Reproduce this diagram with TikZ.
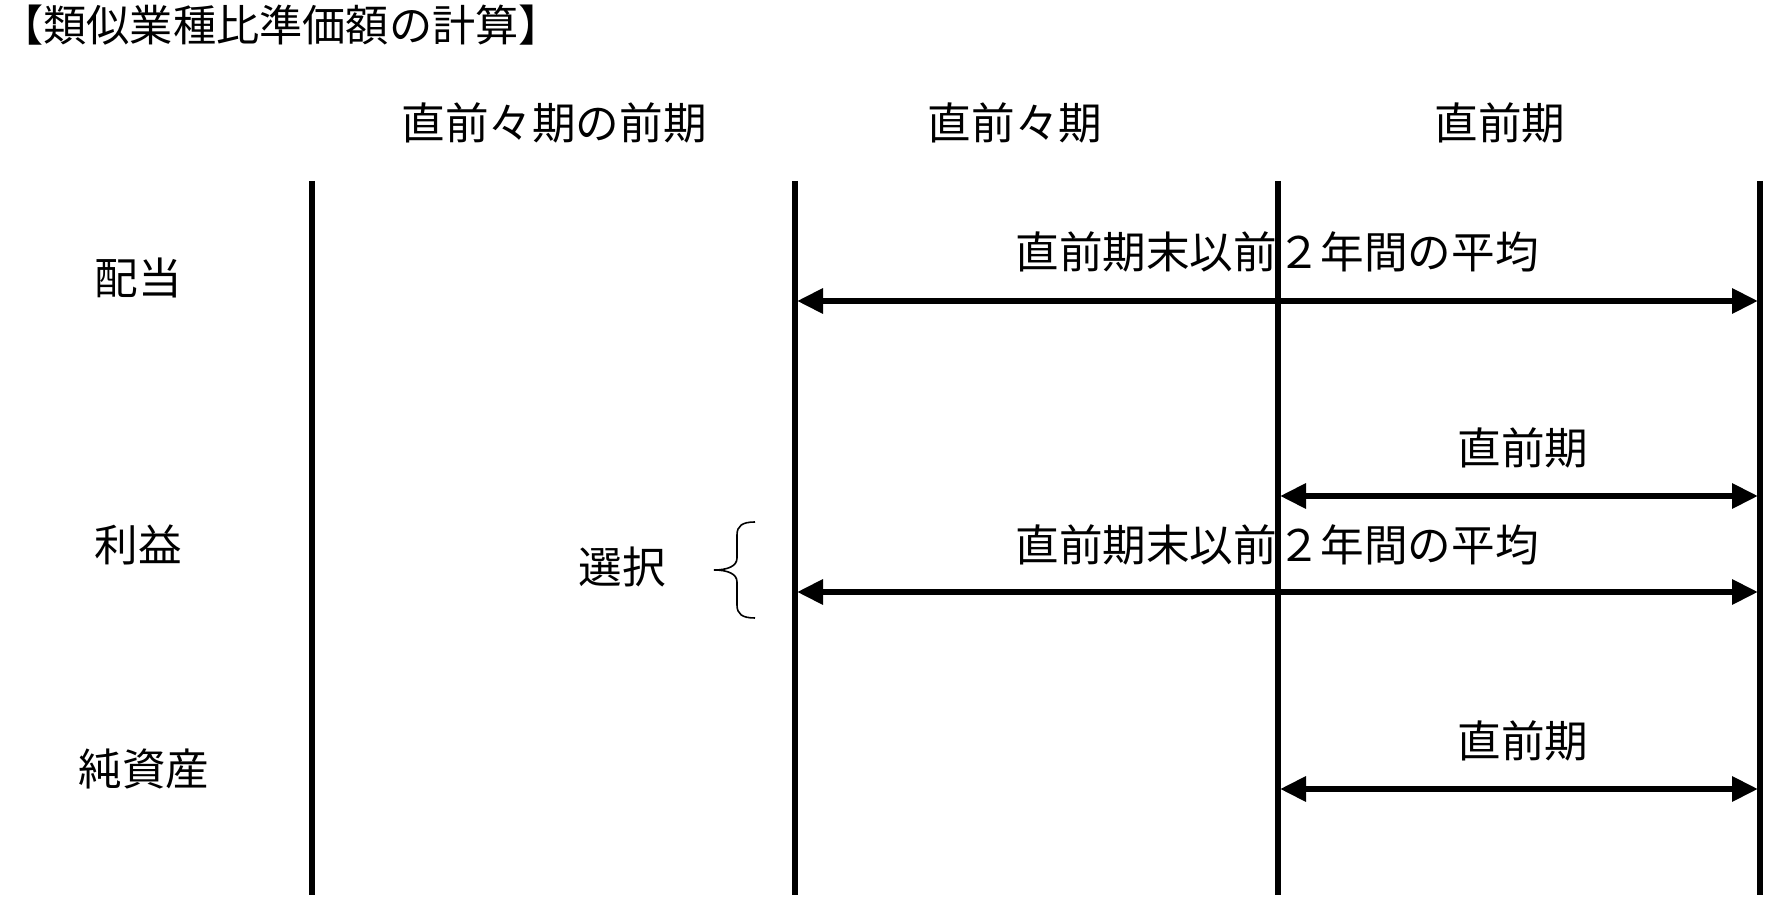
\documentclass[tikz,border=0pt]{standalone}
\usepackage{fontspec}
\setmainfont{Noto Sans CJK JP}
\usetikzlibrary{arrows.meta}
\begin{document}
\begin{tikzpicture}[x=0.5pt,y=-0.5pt,
 lbl/.style={inner sep=0pt, font=\fontsize{21.8pt}{24pt}\selectfont},
 ttl/.style={inner sep=0pt, font=\fontsize{21.6pt}{24pt}\selectfont, anchor=west},
 vline/.style={line width=2.9pt},
 spanarrow/.style={line width=3.1pt, {Triangle[length=13pt,width=12pt]}-{Triangle[length=13pt,width=12pt]}},
 brc/.style={line width=0.8pt}]
\useasboundingbox (0,0) rectangle (1779,908);
\fill[white] (0,0) rectangle (1779,908);
% title
\node[ttl] (title) at (0,25) {【類似業種比準価額の計算】};
% column headers
\node[lbl] (h1) at (554,123) {直前々期の前期};
\node[lbl] (h2) at (1015,123) {直前々期};
\node[lbl] (h3) at (1500,123) {直前期};
% row labels
\node[lbl] (r1) at (138,278) {配当};
\node[lbl] (r2) at (138,545) {利益};
\node[lbl] (r3) at (144,769) {純資産};
% vertical lines
\coordinate (v1t) at (312,181); \coordinate (v1b) at (312,895);
\coordinate (v2t) at (795,181); \coordinate (v2b) at (795,895);
\coordinate (v3t) at (1278,181); \coordinate (v3b) at (1278,895);
\coordinate (v4t) at (1760,181); \coordinate (v4b) at (1760,895);
\draw[vline] (v1t) -- (v1b);
\draw[vline] (v2t) -- (v2b);
\draw[vline] (v3t) -- (v3b);
\draw[vline] (v4t) -- (v4b);
% arrows
\coordinate (a1l) at (797,301); \coordinate (a1r) at (1758,301);
\coordinate (a2l) at (1280,496); \coordinate (a2r) at (1758,496);
\coordinate (a3l) at (797,592); \coordinate (a3r) at (1758,592);
\coordinate (a4l) at (1280,789); \coordinate (a4r) at (1758,789);
\draw[spanarrow] (a1l) -- (a1r);
\draw[spanarrow] (a2l) -- (a2r);
\draw[spanarrow] (a3l) -- (a3r);
\draw[spanarrow] (a4l) -- (a4r);
% arrow labels
\node[lbl] (t1) at (1277,252) {直前期末以前２年間の平均};
\node[lbl] (t2) at (1523,448) {直前期};
\node[lbl] (t3) at (1277,545) {直前期末以前２年間の平均};
\node[lbl] (t4) at (1523,741) {直前期};
% selection
\node[lbl] (sel) at (622,567) {選択};
\draw[brc] (755,522) .. controls (742,522) and (737,526) .. (737,535)
  -- (737,558) .. controls (737,566) and (728,570) .. (714,570)
  .. controls (728,570) and (737,574) .. (737,582)
  -- (737,605) .. controls (737,614) and (742,618) .. (755,618);
\end{tikzpicture}
\end{document}
